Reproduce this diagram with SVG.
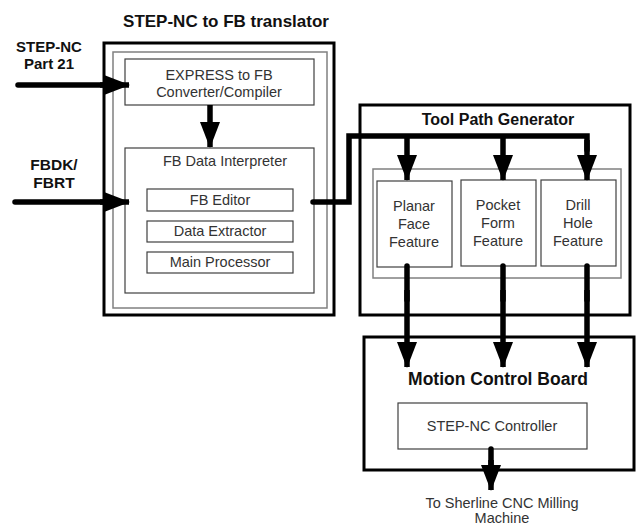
<svg xmlns="http://www.w3.org/2000/svg" width="638" height="525" viewBox="0 0 638 525">
<style>
.bg{fill:#fff}
.thick{fill:none;stroke:#000;stroke-width:3}
.gray{fill:none;stroke:#808080;stroke-width:1.5}
.box{fill:none;stroke:#404040;stroke-width:1.2}
.t{font-family:"Liberation Sans",Arial,sans-serif;font-size:14.5px;fill:#333;text-anchor:middle}
.b{font-family:"Liberation Sans",Arial,sans-serif;font-weight:bold;fill:#111;text-anchor:middle}
.c{fill:none;stroke:#000;stroke-width:5.5;stroke-linecap:round;stroke-linejoin:miter}
.ca{fill:none;stroke:#000;stroke-width:5.5;stroke-linecap:butt}
</style>
<defs>
<marker id="ah" viewBox="0 0 26 20" refX="25" refY="10" markerWidth="26" markerHeight="20" markerUnits="userSpaceOnUse" orient="auto">
<path d="M0,0 L26,10 L0,20 Z" fill="#000"/>
</marker>
</defs>
<rect class="bg" x="0" y="0" width="638" height="525"/>

<text class="b" x="226" y="27" font-size="17">STEP-NC to FB translator</text>

<g id="input-stepnc">
<text class="b" x="49" y="52" font-size="15">STEP-NC</text>
<text class="b" x="49" y="68.5" font-size="15">Part 21</text>
</g>
<g id="input-fbdk">
<text class="b" x="54" y="170" font-size="15.5">FBDK/</text>
<text class="b" x="54" y="188" font-size="15.5">FBRT</text>
</g>

<g id="translator">
<rect class="thick" x="104" y="43" width="230" height="272"/>
<rect class="gray" x="113" y="52" width="214" height="256"/>
</g>
<g id="express-converter">
<rect class="box" x="125" y="59" width="189" height="46"/>
<text class="t" x="219" y="80">EXPRESS to FB</text>
<text class="t" x="219" y="97">Converter/Compiler</text>
</g>
<g id="fb-interpreter">
<rect class="box" x="125" y="148" width="189" height="145"/>
<text class="t" x="225" y="166">FB Data Interpreter</text>
</g>
<g id="fb-editor">
<rect class="box" x="147" y="189" width="146" height="22"/>
<text class="t" x="220" y="205">FB Editor</text>
</g>
<g id="data-extractor">
<rect class="box" x="147" y="221" width="146" height="21"/>
<text class="t" x="220" y="236">Data Extractor</text>
</g>
<g id="main-processor">
<rect class="box" x="147" y="252" width="146" height="21"/>
<text class="t" x="220" y="267">Main Processor</text>
</g>

<g id="tool-path-generator">
<rect class="thick" x="360" y="105" width="270" height="210"/>
<rect class="gray" x="373" y="169" width="248" height="109"/>
<text class="b" x="498" y="125" font-size="16">Tool Path Generator</text>
</g>
<g id="planar-face">
<rect class="box" x="377" y="181" width="75" height="86"/>
<text class="t" x="414" y="211">Planar</text>
<text class="t" x="414" y="229">Face</text>
<text class="t" x="414" y="247">Feature</text>
</g>
<g id="pocket-form">
<rect class="box" x="461" y="180" width="75" height="86"/>
<text class="t" x="498" y="210">Pocket</text>
<text class="t" x="498" y="228">Form</text>
<text class="t" x="498" y="246">Feature</text>
</g>
<g id="drill-hole">
<rect class="box" x="541" y="180" width="75" height="86"/>
<text class="t" x="578" y="210">Drill</text>
<text class="t" x="578" y="228">Hole</text>
<text class="t" x="578" y="246">Feature</text>
</g>

<g id="motion-control-board">
<rect class="thick" x="364" y="337" width="270" height="133"/>
<text class="b" x="498" y="385" font-size="17.5">Motion Control Board</text>
</g>
<g id="stepnc-controller">
<rect class="box" x="398" y="403" width="189" height="46"/>
<text class="t" x="492" y="431">STEP-NC Controller</text>
</g>

<g id="output">
<text class="t" x="502" y="508">To Sherline CNC Milling</text>
<text class="t" x="502" y="523">Machine</text>
</g>

<g id="connectors">
<path class="c" d="M18,85 H105" />
<path class="ca" d="M100,85 H129" marker-end="url(#ah)"/>
<path class="c" d="M15,202 H105" />
<path class="ca" d="M100,202 H129" marker-end="url(#ah)"/>
<path class="ca" d="M210,105 V147" marker-end="url(#ah)"/>
<path class="c" d="M313,202 H349 V136 H587 V150" />
<path class="ca" d="M587,140 V180" marker-end="url(#ah)"/>
<path class="ca" d="M407,136 V180" marker-end="url(#ah)"/>
<path class="ca" d="M503,136 V180" marker-end="url(#ah)"/>
<path class="c" d="M407,266 V300" />
<path class="ca" d="M407,290 V367" marker-end="url(#ah)"/>
<path class="c" d="M503,266 V300" />
<path class="ca" d="M503,290 V367" marker-end="url(#ah)"/>
<path class="c" d="M587,266 V300" />
<path class="ca" d="M587,290 V367" marker-end="url(#ah)"/>
<path class="c" d="M491,449 V470" />
<path class="ca" d="M491,460 V490" marker-end="url(#ah)"/>
</g>
</svg>
